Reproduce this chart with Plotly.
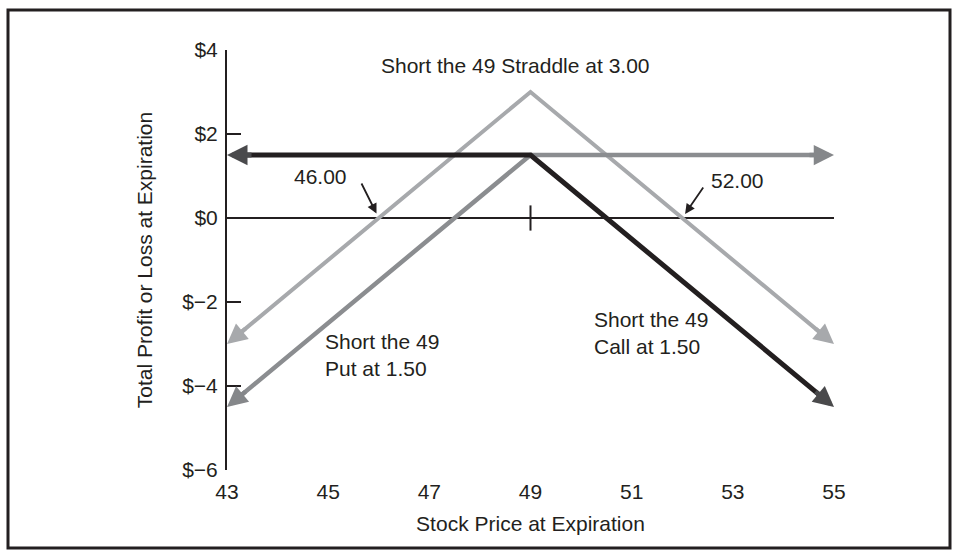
import plotly.graph_objects as go

# ---- data ----
PRICES = [43, 49, 55]                 # stock price at expiration (end, strike, end)
STRADDLE = [-3.0, 3.0, -3.0]          # short 49 straddle at 3.00
SHORT_PUT = [-4.5, 1.5, 1.5]          # short 49 put at 1.50
SHORT_CALL = [1.5, 1.5, -4.5]         # short 49 call at 1.50
STRIKE = 49
BREAKEVENS = [46.0, 52.0]
X_TICKS = [43, 45, 47, 49, 51, 53, 55]
Y_TICKS = [-6, -4, -2, 0, 2, 4]
Y_TICK_TEXT = ["$\u22126", "$\u22124", "$\u22122", "$0", "$2", "$4"]

# ---- layout constants ----
W, H = 958, 557
ML, MR, MT, MB = 227, 124, 50, 87
PW, PH = W - ML - MR, H - MT - MB
XR = [43, 55]
YR = [-6, 4]
SX = PW / (XR[1] - XR[0])
SY = PH / (YR[1] - YR[0])
INK = "#231f20"
FONT = "Liberation Sans, Arial, Helvetica, sans-serif"


def toward(p_end, p_in, px):
    """point px pixels back from p_end toward p_in (data coords)."""
    dx = (p_end[0] - p_in[0]) * SX
    dy = (p_end[1] - p_in[1]) * SY
    L = (dx * dx + dy * dy) ** 0.5
    f = px / L
    return (p_end[0] - (p_end[0] - p_in[0]) * f, p_end[1] - (p_end[1] - p_in[1]) * f)


fig = go.Figure()
annotations = []

series = [
    (STRADDLE, "#a7a9ac", "#a7a9ac", 4, 1.0),
    (SHORT_PUT, "#8b8d90", "#85878a", 4.5, 0.9),
    (SHORT_CALL, INK, "#4a4a4c", 5, 0.82),
]

for vals, col, headcol, lw, asz in series:
    pts = list(zip(PRICES, vals))
    v = pts[1]
    a = toward(pts[0], v, 10)
    b = toward(pts[2], v, 10)
    fig.add_trace(go.Scatter(
        x=[a[0], v[0], b[0]], y=[a[1], v[1], b[1]], mode="lines",
        line=dict(color=col, width=lw), hoverinfo="skip", showlegend=False,
    ))
    for end in (pts[0], pts[2]):
        back = toward(end, v, 26)
        annotations.append(dict(
            x=end[0], y=end[1], ax=back[0], ay=back[1], xref="x", yref="y",
            axref="x", ayref="y", text="", showarrow=True, arrowhead=2,
            arrowsize=asz, arrowwidth=lw, arrowcolor=headcol,
        ))

# strike tick mark on zero line
fig.add_trace(go.Scatter(
    x=[STRIKE], y=[0], mode="markers",
    marker=dict(symbol="line-ns", size=18, line=dict(color=INK, width=2)),
    hoverinfo="skip", showlegend=False,
))

tf = dict(family=FONT, size=21, color=INK)

annotations += [
    dict(x=48.7, y=3.62, xref="x", yref="y", showarrow=False,
         text=f"Short the {STRIKE} Straddle at {max(STRADDLE):.2f}", font=tf),
    dict(x=44.84, y=0.98, xref="x", yref="y", showarrow=False,
         text=f"{BREAKEVENS[0]:.2f}", font=tf),
    dict(x=53.10, y=0.90, xref="x", yref="y", showarrow=False,
         text=f"{BREAKEVENS[1]:.2f}", font=tf),
    dict(x=44.90, y=-3.26, xref="x", yref="y", showarrow=False, xanchor="left",
         align="left", text=f"Short the {STRIKE}<br>Put at {max(SHORT_PUT):.2f}", font=tf),
    dict(x=50.22, y=-2.74, xref="x", yref="y", showarrow=False, xanchor="left",
         align="left", text=f"Short the {STRIKE}<br>Call at {max(SHORT_CALL):.2f}", font=tf),
    dict(x=BREAKEVENS[0], y=0, xref="x", yref="y", ax=-18, ay=-36, text="",
         showarrow=True, arrowhead=2, arrowsize=1.1, arrowwidth=1.8,
         arrowcolor=INK, standoff=5),
    dict(x=BREAKEVENS[1], y=0, xref="x", yref="y", ax=22, ay=-32, text="",
         showarrow=True, arrowhead=2, arrowsize=1.1, arrowwidth=1.8,
         arrowcolor=INK, standoff=5),
]

# outer frame (paper coords relative to plot area)
fx0 = (8 - ML) / PW
fx1 = (950 - ML) / PW
fy1 = (H - MB - 10) / PH
fy0 = (H - MB - 548) / PH

fig.update_layout(
    width=W, height=H,
    margin=dict(l=ML, r=MR, t=MT, b=MB, pad=0),
    paper_bgcolor="white", plot_bgcolor="white",
    font=dict(family=FONT, size=21, color=INK),
    annotations=annotations,
    shapes=[dict(type="rect", xref="paper", yref="paper", x0=fx0, x1=fx1,
                 y0=fy0, y1=fy1, line=dict(color=INK, width=3), layer="above")],
    xaxis=dict(
        range=XR, tickvals=X_TICKS, ticks="", showline=False, showgrid=False,
        zeroline=False, tickfont=dict(size=21), ticklabelstandoff=7,
        title=dict(text="Stock Price at Expiration", font=dict(size=21), standoff=14),
    ),
    yaxis=dict(
        range=YR, tickvals=Y_TICKS, ticktext=Y_TICK_TEXT, ticks="inside",
        ticklen=14, tickwidth=2, tickcolor=INK, showline=True, linecolor=INK,
        linewidth=2, showgrid=False, zeroline=True, zerolinecolor=INK,
        zerolinewidth=2, tickfont=dict(size=21), ticklabelstandoff=3,
        title=dict(text="Total Profit or Loss at Expiration", font=dict(size=21), standoff=24),
    ),
)

fig.write_html(
    "out.html",
    config={"displayModeBar": False},
    post_script="document.body.style.margin='0';document.body.style.padding='0';",
)
